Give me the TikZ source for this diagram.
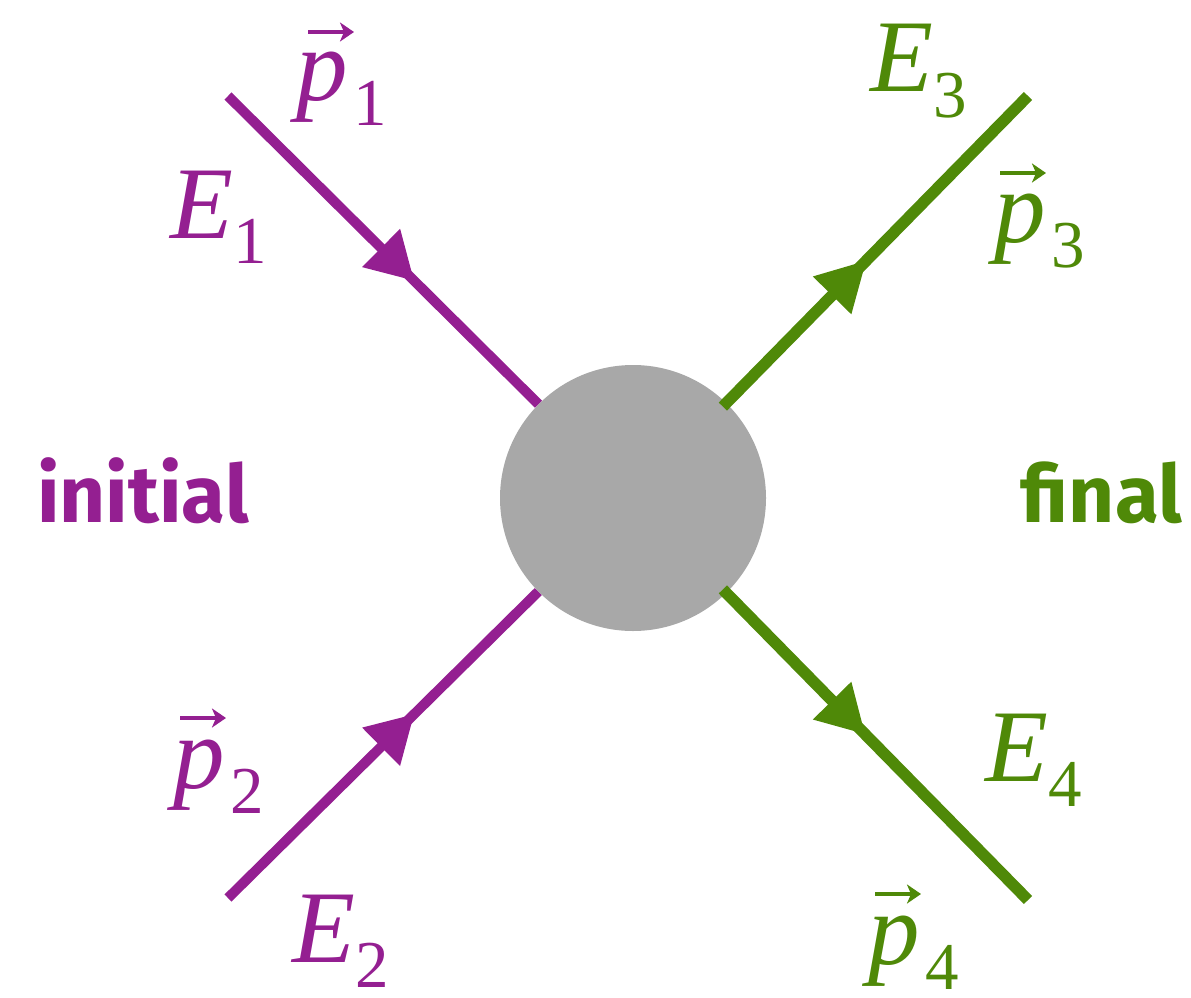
\documentclass[tikz,border=0pt]{standalone}
\usepackage{fontspec}
\setmainfont{Liberation Serif}
\newfontfamily\fira{Fira Sans}
\usetikzlibrary{calc,arrows.meta}
\definecolor{pur}{RGB}{148,31,145}
\definecolor{grn}{RGB}{79,137,8}
\definecolor{blob}{RGB}{168,168,168}
\newcommand\lbE[1]{{\fontsize{103}{103}\selectfont\itshape E}\lower25pt\hbox{\fontsize{67}{67}\selectfont #1}}
\newcommand\lbP[1]{{\fontsize{103}{103}\selectfont\itshape p}\kern6pt\lower25pt\hbox{\fontsize{67}{67}\selectfont #1}}
\newcommand\ahead[3]{\fill[#1] (#2) -- ($(#3)!27pt!90:(#2)$) -- ($(#3)!27pt!-90:(#2)$) -- cycle;}
\begin{document}
\begin{tikzpicture}[x=1pt,y=-1pt,
  lab/.style={anchor=base west, inner sep=0pt},
  vecarrow/.style={line width=4.5pt, -{Stealth[length=14pt, width=19pt, inset=4pt]}},
  word/.style={inner sep=0pt, font=\fira\bfseries\fontsize{80}{80}\selectfont}]
\useasboundingbox (0,0) rectangle (1191,998);
\node[circle, fill=blob, minimum size=266pt, inner sep=0pt] (c) at (633,498) {};
\coordinate (a1) at (228,96);
\coordinate (a2) at (228,898);
\coordinate (a3) at (1028,96);
\coordinate (a4) at (1028,900);
\draw[pur, line width=10pt] (a1) -- (c);
\draw[pur, line width=10pt] (a2) -- (c);
\draw[grn, line width=11.5pt, shorten >=-5pt] (a3) -- (c);
\draw[grn, line width=11.5pt, shorten >=-5pt] (a4) -- (c);
\ahead{pur}{$(a1)!0.459!(c.center)$}{$(a1)!0.378!(c.center)$}
\ahead{pur}{$(a2)!0.459!(c.center)$}{$(a2)!0.378!(c.center)$}
\ahead{grn}{$(c.center)!0.590!(a3)$}{$(c.center)!0.504!(a3)$}
\ahead{grn}{$(c.center)!0.587!(a4)$}{$(c.center)!0.504!(a4)$}
\node[lab, pur] (E1) at (170,238) {\lbE{1}};
\node[lab, pur] (p1) at (296,100) {\lbP{1}};
\node[lab, pur] (E2) at (292,962) {\lbE{2}};
\node[lab, pur] (p2) at (173,788) {\lbP{2}};
\node[lab, grn] (E3) at (870,92) {\lbE{3}};
\node[lab, grn] (p3) at (994,242) {\lbP{3}};
\node[lab, grn] (E4) at (985,781) {\lbE{4}};
\node[lab, grn] (p4) at (868,964) {\lbP{4}};
\draw[pur, vecarrow] ($(p1.base west)+(12,-68)$) -- ++(46,0);
\draw[pur, vecarrow] ($(p2.base west)+(7,-70)$) -- ++(46,0);
\draw[grn, vecarrow] ($(p3.base west)+(6,-69)$) -- ++(46,0);
\draw[grn, vecarrow] ($(p4.base west)+(7,-70)$) -- ++(46,0);
\node[word, pur, anchor=base west] (ini) at (37,522) {initial};
\node[word, grn, anchor=base east] (fin) at (1182,522) {final};
\end{tikzpicture}
\end{document}
